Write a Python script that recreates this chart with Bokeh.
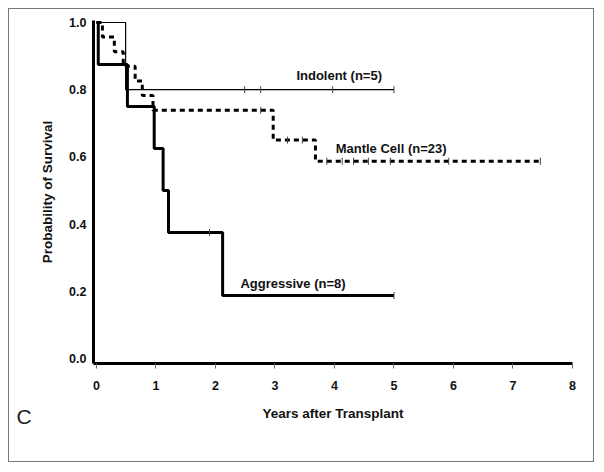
import math
from bokeh.plotting import figure
from bokeh.models import Range1d, FixedTicker, NumeralTickFormatter, Label, Title
from bokeh.embed import file_html
from bokeh.resources import INLINE

# ---- data ----
aggr_t = [0.0, 0.03, 0.52, 0.97, 1.12, 1.21, 2.12, 5.0]
aggr_s = [1.0, 0.875, 0.75, 0.625, 0.5, 0.375, 0.1875, 0.1875]
aggr_cens_t = [1.9, 5.0]
aggr_cens_s = [0.375, 0.1875]

indo_t = [0.0, 0.49, 5.0]
indo_s = [1.0, 0.8, 0.8]
indo_cens_t = [2.49, 2.76, 3.97, 5.0]
indo_cens_s = [0.8, 0.8, 0.8, 0.8]

mant_t = [0.0, 0.1, 0.3, 0.45, 0.65, 0.77, 0.95, 2.97, 3.68, 7.5]
mant_s = [1.0, 0.957, 0.913, 0.870, 0.826, 0.783, 0.739, 0.650, 0.587, 0.587]
mant_cens_t = [2.76, 3.21, 3.46, 3.87, 4.13, 4.32, 4.57, 4.94, 5.92, 7.46]
mant_cens_s = [0.739, 0.650, 0.650, 0.587, 0.587, 0.587, 0.587, 0.587, 0.587, 0.587]

x_ticks = [0, 1, 2, 3, 4, 5, 6, 7, 8]
y_ticks = [0.0, 0.2, 0.4, 0.6, 0.8, 1.0]

FONT = "Liberation Sans"

p = figure(width=586, height=454, output_backend="svg", toolbar_location=None,
           x_range=Range1d(-0.05, 8.0), y_range=Range1d(-0.015, 1.006),
           min_border_left=84, min_border_right=23, min_border_top=11, min_border_bottom=100)
p.margin = (8, 8, 8, 8)
p.styles = {"border": "1px solid #777777", "background-color": "white"}
p.outline_line_color = None
p.xgrid.visible = False
p.ygrid.visible = False
p.background_fill_color = "white"
p.border_fill_color = None

# axes
p.xaxis.ticker = FixedTicker(ticks=x_ticks)
p.yaxis.ticker = FixedTicker(ticks=y_ticks)
p.yaxis.formatter = NumeralTickFormatter(format="0.0")
for ax in (p.xaxis[0], p.yaxis[0]):
    ax.axis_line_width = 3
    ax.axis_line_color = "black"
    ax.major_label_text_font = FONT
    ax.major_label_text_font_style = "bold"
    ax.major_label_text_font_size = "12.5px"
    ax.major_label_text_color = "#111111"
    ax.axis_label_text_font = FONT
    ax.axis_label_text_font_style = "bold"
    ax.axis_label_text_font_size = "13.5px"
    ax.axis_label_text_color = "#111111"
    ax.minor_tick_line_color = None

p.xaxis.major_tick_line_color = "#666666"
p.xaxis.major_tick_line_width = 1
p.xaxis.major_tick_in = 0
p.xaxis.major_tick_out = 5
p.xaxis.major_label_standoff = 12
p.xaxis.axis_label = "Years after Transplant"
p.xaxis.axis_label_standoff = 13

p.yaxis.major_tick_line_color = None
p.yaxis.major_tick_in = 0
p.yaxis.major_tick_out = 0
p.yaxis.major_label_standoff = 7
p.yaxis.axis_label = "Probability of Survival"
p.yaxis.axis_label_standoff = 11

# curves
p.step(aggr_t, aggr_s, mode="after", line_color="black", line_width=3)
p.step(mant_t, mant_s, mode="after", line_color="black", line_width=3, line_dash="5 4")
p.step(indo_t, indo_s, mode="after", line_color="black", line_width=1.2)

# censor marks
for ct, cs in ((aggr_cens_t, aggr_cens_s), (indo_cens_t, indo_cens_s), (mant_cens_t, mant_cens_s)):
    p.scatter(ct, cs, marker="dash", angle=math.pi / 2, size=7,
              line_color="#444444", line_width=1)

# curve labels
lab_kw = dict(text_font=FONT, text_font_style="bold", text_font_size="13px",
              text_color="#111111", text_baseline="middle", text_align="left")
p.add_layout(Label(x=3.36, y=0.842, text="Indolent (n=5)", **lab_kw))
p.add_layout(Label(x=4.02, y=0.625, text="Mantle Cell (n=23)", **lab_kw))
p.add_layout(Label(x=2.42, y=0.223, text="Aggressive (n=8)", **lab_kw))

# panel letter, as a title below the x axis
p.add_layout(Title(text="C", align="left", offset=-77, standoff=-38, vertical_align="top",
                   text_font=FONT, text_font_size="21px", text_font_style="normal",
                   text_color="#222222"), "below")

open("out.html", "w").write(file_html(p, INLINE))
